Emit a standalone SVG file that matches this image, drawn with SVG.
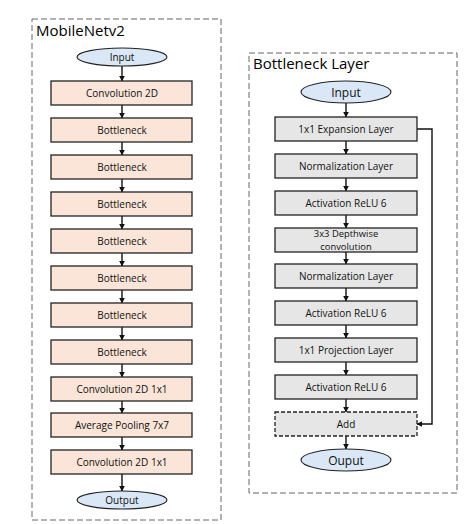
<svg xmlns="http://www.w3.org/2000/svg" width="476" height="524" viewBox="0 0 476 524">
<style>
.frame{fill:none;stroke:#666;stroke-width:1;stroke-dasharray:6,3}
.title{font-family:"Open Sans","Liberation Sans",sans-serif;font-size:15px;fill:#000}
.lbl{font-family:"Open Sans","Liberation Sans",sans-serif;font-size:10px;fill:#111;text-anchor:middle;dominant-baseline:central}
.sm{font-size:9.4px}
.ell{fill:#dae7f7;stroke:#222;stroke-width:1.1}
.peach{fill:#fbe4d8;stroke:#222;stroke-width:1.3}
.gray{fill:#e6e6e6;stroke:#222;stroke-width:1.3}
.dash{fill:#e6e6e6;stroke:#222;stroke-width:1.3;stroke-dasharray:4,2}
.conn{stroke:#111;stroke-width:1.4;fill:none;marker-end:url(#ah)}
</style>
<defs>
<marker id="ah" viewBox="0 0 10 10" refX="9" refY="5" markerWidth="6" markerHeight="6" orient="auto" markerUnits="userSpaceOnUse">
<path d="M0,0 L10,5 L0,10 z" fill="#111"/>
</marker>
</defs>
<rect width="476" height="524" fill="#fff"/>
<rect class="frame" x="32" y="19" width="189" height="501"/>
<text class="title" x="36" y="36">MobileNetv2</text>
<rect class="frame" x="249" y="53" width="208" height="440"/>
<text class="title" x="253" y="69">Bottleneck Layer</text>

<g id="connectors">
<line class="conn" x1="122" y1="66" x2="122" y2="81"/>
<line class="conn" x1="122" y1="105" x2="122" y2="118"/>
<line class="conn" x1="122" y1="142" x2="122" y2="155"/>
<line class="conn" x1="122" y1="179" x2="122" y2="192"/>
<line class="conn" x1="122" y1="216" x2="122" y2="229"/>
<line class="conn" x1="122" y1="253" x2="122" y2="266"/>
<line class="conn" x1="122" y1="290" x2="122" y2="303"/>
<line class="conn" x1="122" y1="327" x2="122" y2="340"/>
<line class="conn" x1="122" y1="364" x2="122" y2="377"/>
<line class="conn" x1="122" y1="401" x2="122" y2="413"/>
<line class="conn" x1="122" y1="437" x2="122" y2="450"/>
<line class="conn" x1="122" y1="474" x2="122" y2="491"/>

<line class="conn" x1="346" y1="103" x2="346" y2="117"/>
<line class="conn" x1="346" y1="141" x2="346" y2="154"/>
<line class="conn" x1="346" y1="178" x2="346" y2="191"/>
<line class="conn" x1="346" y1="215" x2="346" y2="228"/>
<line class="conn" x1="346" y1="252" x2="346" y2="264"/>
<line class="conn" x1="346" y1="288" x2="346" y2="301"/>
<line class="conn" x1="346" y1="325" x2="346" y2="338"/>
<line class="conn" x1="346" y1="362" x2="346" y2="375"/>
<line class="conn" x1="346" y1="399" x2="346" y2="412"/>
<line class="conn" x1="346" y1="436" x2="346" y2="449"/>
<polyline class="conn" points="417,129 432,129 432,424 417,424"/>
</g>

<g id="m-input"><ellipse class="ell" cx="122" cy="57" rx="45" ry="9"/><text class="lbl" x="122" y="57">Input</text></g>
<g id="m-conv2d"><rect class="peach" x="51" y="81" width="141" height="24"/><text class="lbl" x="122" y="93">Convolution 2D</text></g>
<g id="m-b1"><rect class="peach" x="51" y="118" width="141" height="24"/><text class="lbl" x="122" y="130">Bottleneck</text></g>
<g id="m-b2"><rect class="peach" x="51" y="155" width="141" height="24"/><text class="lbl" x="122" y="167">Bottleneck</text></g>
<g id="m-b3"><rect class="peach" x="51" y="192" width="141" height="24"/><text class="lbl" x="122" y="204">Bottleneck</text></g>
<g id="m-b4"><rect class="peach" x="51" y="229" width="141" height="24"/><text class="lbl" x="122" y="241">Bottleneck</text></g>
<g id="m-b5"><rect class="peach" x="51" y="266" width="141" height="24"/><text class="lbl" x="122" y="278">Bottleneck</text></g>
<g id="m-b6"><rect class="peach" x="51" y="303" width="141" height="24"/><text class="lbl" x="122" y="315">Bottleneck</text></g>
<g id="m-b7"><rect class="peach" x="51" y="340" width="141" height="24"/><text class="lbl" x="122" y="352">Bottleneck</text></g>
<g id="m-conv1"><rect class="peach" x="51" y="377" width="141" height="24"/><text class="lbl" x="122" y="389">Convolution 2D 1x1</text></g>
<g id="m-pool"><rect class="peach" x="51" y="413" width="141" height="24"/><text class="lbl" x="122" y="425">Average Pooling 7x7</text></g>
<g id="m-conv2"><rect class="peach" x="51" y="450" width="141" height="24"/><text class="lbl" x="122" y="462">Convolution 2D 1x1</text></g>
<g id="m-output"><ellipse class="ell" cx="122" cy="500" rx="45" ry="9"/><text class="lbl" x="122" y="500">Output</text></g>

<g id="b-input"><ellipse class="ell" cx="346" cy="92" rx="45" ry="11"/><text class="lbl" x="346" y="92" style="font-size:12px">Input</text></g>
<g id="b-exp"><rect class="gray" x="275" y="117" width="142" height="24"/><text class="lbl" x="346" y="129">1x1 Expansion Layer</text></g>
<g id="b-norm1"><rect class="gray" x="275" y="154" width="142" height="24"/><text class="lbl" x="346" y="166">Normalization Layer</text></g>
<g id="b-act1"><rect class="gray" x="275" y="191" width="142" height="24"/><text class="lbl" x="346" y="203">Activation ReLU 6</text></g>
<g id="b-dw"><rect class="gray" x="275" y="228" width="142" height="24"/><text class="lbl sm" x="346" y="233.5">3x3 Depthwise</text><text class="lbl sm" x="346" y="246.5">convolution</text></g>
<g id="b-norm2"><rect class="gray" x="275" y="264" width="142" height="24"/><text class="lbl" x="346" y="276">Normalization Layer</text></g>
<g id="b-act2"><rect class="gray" x="275" y="301" width="142" height="24"/><text class="lbl" x="346" y="313">Activation ReLU 6</text></g>
<g id="b-proj"><rect class="gray" x="275" y="338" width="142" height="24"/><text class="lbl" x="346" y="350">1x1 Projection Layer</text></g>
<g id="b-act3"><rect class="gray" x="275" y="375" width="142" height="24"/><text class="lbl" x="346" y="387">Activation ReLU 6</text></g>
<g id="b-add"><rect class="dash" x="275" y="412" width="142" height="24"/><text class="lbl" x="346" y="424">Add</text></g>
<g id="b-output"><ellipse class="ell" cx="346" cy="460" rx="45" ry="11"/><text class="lbl" x="346" y="460" style="font-size:12px">Ouput</text></g>
</svg>
